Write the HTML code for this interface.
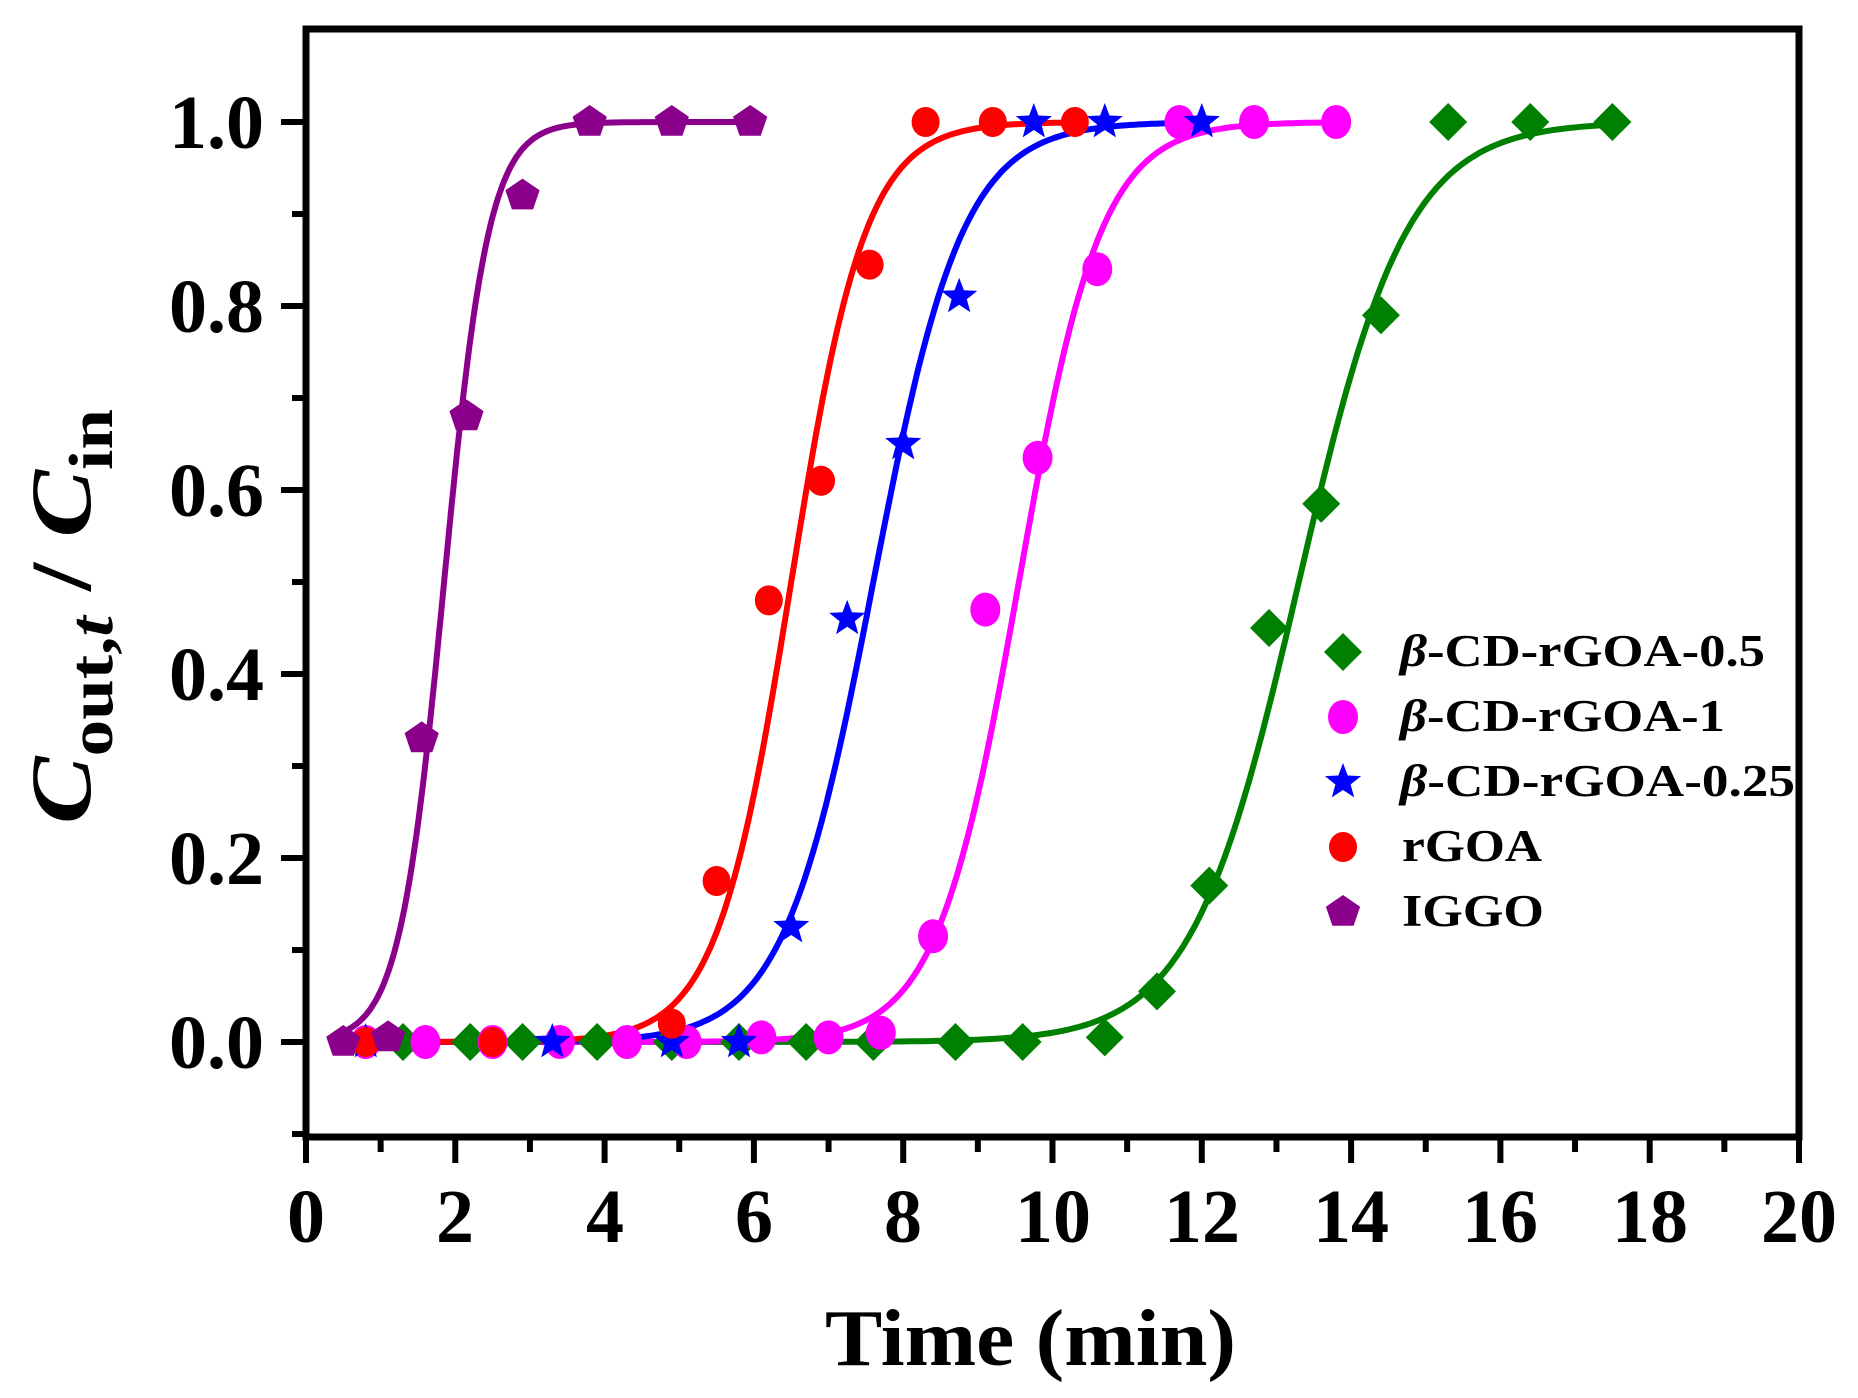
<!DOCTYPE html>
<html><head><meta charset="utf-8"><style>html,body{margin:0;padding:0;background:#fff}svg{display:block}svg text{font-family:"Liberation Serif","Times New Roman",serif;font-weight:bold}</style></head>
<body>
<svg id="s" width="1858" height="1398" viewBox="0 0 1858 1398" xmlns="http://www.w3.org/2000/svg">
<rect width="1858" height="1398" fill="#fff"/>
<g id="curves"></g>
<g id="marks"></g>
<rect x="306" y="29" width="1493" height="1108" fill="none" stroke="#000" stroke-width="7"/>
<g id="ticks" stroke="#000" stroke-width="6"></g>
<g font-size="76" text-anchor="end">
<text x="264" y="148">1.0</text><text x="264" y="332">0.8</text><text x="264" y="516">0.6</text>
<text x="264" y="700">0.4</text><text x="264" y="884">0.2</text><text x="264" y="1068">0.0</text>
</g>
<g font-size="76" text-anchor="middle">
<text x="306" y="1242">0</text><text x="455" y="1242">2</text><text x="605" y="1242">4</text><text x="754" y="1242">6</text><text x="903" y="1242">8</text>
<text x="1053" y="1242">10</text><text x="1202" y="1242">12</text><text x="1351" y="1242">14</text><text x="1500" y="1242">16</text><text x="1650" y="1242">18</text><text x="1799" y="1242">20</text>
</g>
<text x="825" y="1365" font-size="80" textLength="411" lengthAdjust="spacingAndGlyphs">Time (min)</text>
<text transform="translate(90,824) rotate(-90)" font-size="86" textLength="415" lengthAdjust="spacingAndGlyphs"><tspan font-style="italic">C</tspan><tspan font-size="62" dy="22">out,</tspan><tspan font-size="62" font-style="italic">t</tspan><tspan dy="-22"> / </tspan><tspan font-style="italic">C</tspan><tspan font-size="62" dy="22">in</tspan></text>
<g font-size="45">
<text x="1400" y="666" textLength="365" lengthAdjust="spacingAndGlyphs"><tspan font-style="italic">β</tspan>-CD-rGOA-0.5</text>
<text x="1400" y="731" textLength="325" lengthAdjust="spacingAndGlyphs"><tspan font-style="italic">β</tspan>-CD-rGOA-1</text>
<text x="1400" y="796" textLength="395" lengthAdjust="spacingAndGlyphs"><tspan font-style="italic">β</tspan>-CD-rGOA-0.25</text>
<text x="1402" y="861" textLength="140" lengthAdjust="spacingAndGlyphs">rGOA</text>
<text x="1402" y="926" textLength="142" lengthAdjust="spacingAndGlyphs">IGGO</text>
</g>
<g id="leg"></g>
</svg>
<script>
var NS="http://www.w3.org/2000/svg";
function X(t){return 306+74.65*t}function Y(v){return 1042-920*v}
function el(p,tag,a){var e=document.createElementNS(NS,tag);for(var k in a)e.setAttribute(k,a[k]);p.appendChild(e);return e}
var T=document.getElementById('ticks');
for(var i=0;i<=11;i++){var v=-0.1+i*0.1;var y=Y(v);var maj=(i%2==1);el(T,'line',{x1:306,x2:maj?281:292,y1:y,y2:y});}
for(var i=0;i<=20;i++){var x=X(i);var maj=(i%2==0);el(T,'line',{x1:x,x2:x,y1:1137,y2:maj?1163:1152});}
function marker(g,type,cx,cy,col){
 if(type=='d')el(g,'polygon',{points:[cx,cy-19,cx+19,cy,cx,cy+19,cx-19,cy].join(' '),fill:col});
 else if(type=='o')el(g,'ellipse',{cx:cx,cy:cy,rx:15,ry:17,fill:col});
 else if(type=='c')el(g,'ellipse',{cx:cx,cy:cy,rx:14,ry:15,fill:col});
 else if(type=='s'){var p=[];for(var k=0;k<10;k++){var r=k%2?8:19;var a=-Math.PI/2+k*Math.PI/5;p.push((cx+r*Math.cos(a)).toFixed(1)+','+(cy+r*Math.sin(a)).toFixed(1));}el(g,'polygon',{points:p.join(' '),fill:col});}
 else if(type=='p'){var p=[];for(var k=0;k<5;k++){var a=-Math.PI/2+k*2*Math.PI/5;p.push((cx+18*Math.cos(a)).toFixed(1)+','+(cy+17*Math.sin(a)).toFixed(1));}el(g,'polygon',{points:p.join(' '),fill:col});}
}
var S=[
 {c:'#008000',m:'d',t0:13.3,k:0.72,a:1.3,b:17.5,pts:[[1.3,0],[2.2,0],[2.9,0],[3.9,0],[4.9,0],[5.8,0],[6.7,0],[7.6,0],[8.7,0],[9.6,0],[10.7,0.005],[11.4,0.055],[12.1,0.17],[12.9,0.45],[13.6,0.585],[14.4,0.79],[15.3,1],[16.4,1],[17.5,1]]},
 {c:'#ff00ff',m:'o',t0:9.55,k:0.55,a:0.8,b:13.8,pts:[[0.8,0],[1.6,0],[2.5,0],[3.4,0],[4.3,0],[5.1,0],[6.1,0.005],[7.0,0.005],[7.7,0.01],[8.4,0.115],[9.1,0.47],[9.8,0.635],[10.6,0.84],[11.7,1],[12.7,1],[13.8,1]]},
 {c:'#0000ff',m:'s',t0:7.6,k:0.6,a:0.8,b:12,pts:[[0.8,0],[3.3,0],[4.9,0],[5.8,0],[6.5,0.125],[7.25,0.46],[8.0,0.65],[8.75,0.81],[9.75,1],[10.7,1],[12,1]]},
 {c:'#ff0000',m:'c',t0:6.5,k:0.5,a:0.8,b:10.3,pts:[[0.8,0],[2.5,0],[4.9,0.02],[5.5,0.175],[6.2,0.48],[6.9,0.61],[7.55,0.845],[8.3,1],[9.2,1],[10.3,1]]},
 {c:'#8b008b',m:'p',t0:1.85,k:0.3,a:0.5,b:5.95,pts:[[0.5,0],[1.1,0.005],[1.55,0.33],[2.15,0.68],[2.9,0.92],[3.8,1],[4.9,1],[5.95,1]]}
];
var C=document.getElementById('curves'),M=document.getElementById('marks');
S.forEach(function(s){var d='';var n=200;for(var i=0;i<=n;i++){var t=s.a+(s.b-s.a)*i/n;var v=1/(1+Math.exp(-(t-s.t0)/s.k));d+=(i?'L':'M')+X(t).toFixed(1)+','+Y(v).toFixed(1);}
 el(C,'path',{d:d,fill:'none',stroke:s.c,'stroke-width':6});
 s.pts.forEach(function(p){marker(M,s.m,X(p[0]),Y(p[1]),s.c)});});
var L=document.getElementById('leg');var ly=[652,717,782,847,912];
S.forEach(function(s,i){marker(L,s.m,1343,ly[i],s.c)});
</script>
</body></html>
